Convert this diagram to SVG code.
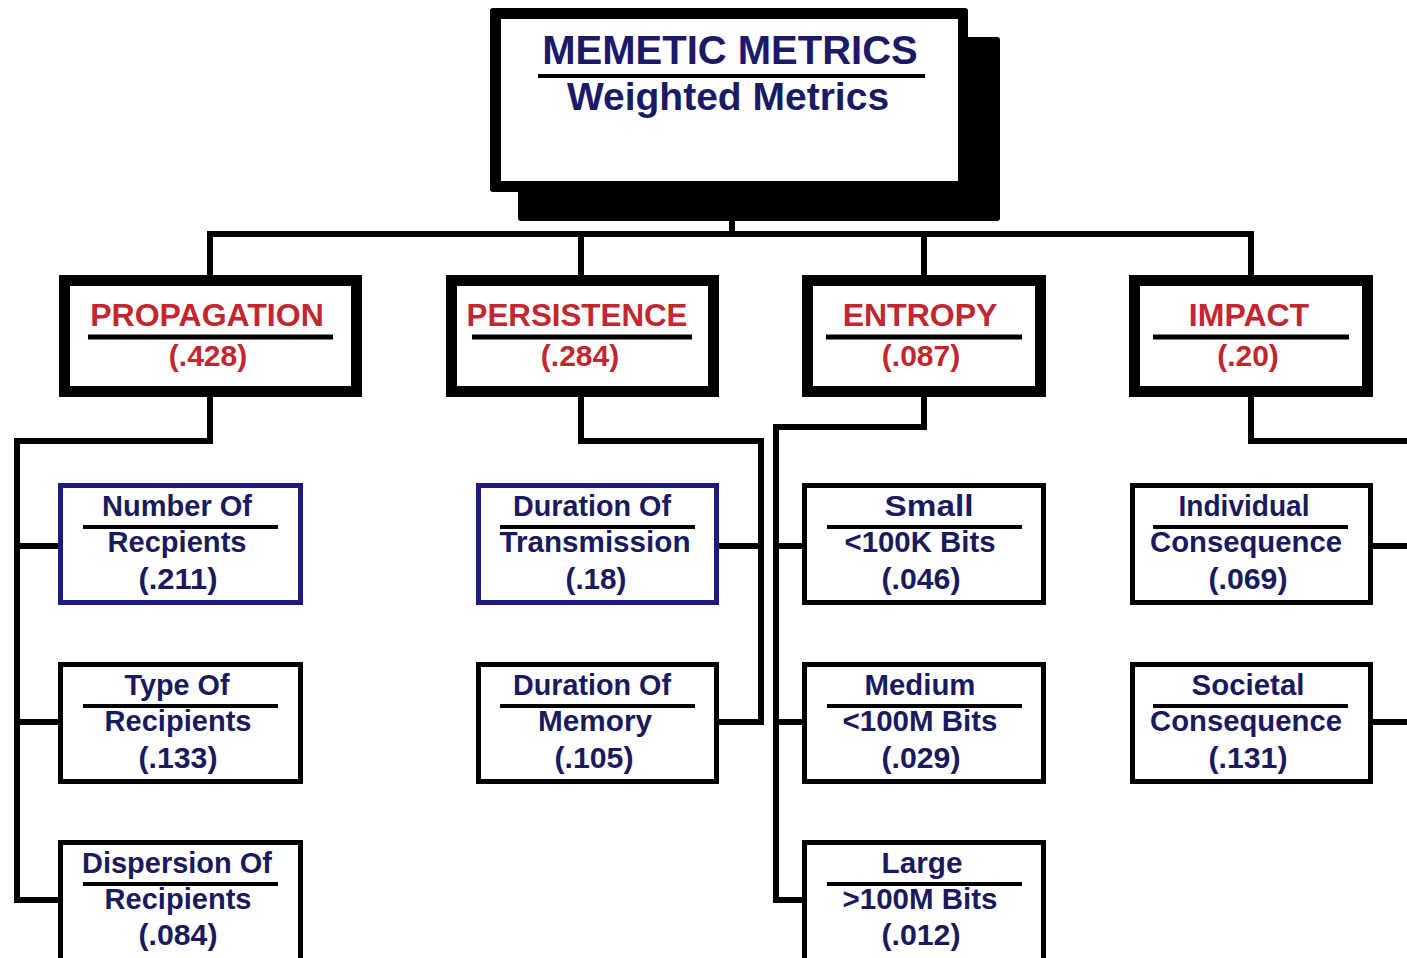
<svg xmlns="http://www.w3.org/2000/svg" width="1407" height="958" viewBox="0 0 1407 958">
<style>
.bg{fill:#ffffff}
.l1{fill:#ffffff;stroke:#000;stroke-width:11}
.l2{fill:#ffffff;stroke:#000;stroke-width:5}
.l2b{fill:#ffffff;stroke:#1c1c80;stroke-width:5}
.ul1{stroke:#000;stroke-width:5}
.ul2{stroke:#000;stroke-width:4}
.t0{font-family:"Liberation Sans",Arial,sans-serif;font-weight:bold;fill:#1a1a66;text-anchor:middle}
.t1{font-family:"Liberation Sans",Arial,sans-serif;font-weight:bold;fill:#c4262e;text-anchor:middle}
.t2{font-family:"Liberation Sans",Arial,sans-serif;font-weight:bold;fill:#1a1a5e;text-anchor:middle;font-size:29px}
.conn{fill:none;stroke:#000;stroke-width:6}
</style>
<rect class="bg" x="0" y="0" width="1407" height="958"/>

<g id="connectors">
<path class="conn" d="M732 218 V234 M207 234 H1254 M210 234 V277 M581 234 V277 M924 234 V277 M1251 234 V277"/>
<path class="conn" d="M210 395 V441 H17 V900 H60 M17 546 H60 M17 722 H60"/>
<path class="conn" d="M581 395 V441 H761 V722 H717 M717 546 H761"/>
<path class="conn" d="M924 395 V427 H776 V900 H804 M776 546 H804 M776 722 H804"/>
<path class="conn" d="M1251 395 V441 H1407 M1371 546 H1407 M1371 722 H1407"/>
</g>

<g id="root">
<rect x="518" y="37" width="482" height="184" rx="3" fill="#000"/>
<rect x="490" y="8" width="478" height="184" rx="3" fill="#000"/>
<rect x="501" y="19" width="457" height="162" fill="#fff"/>
<text class="t0" x="730" y="64" font-size="40">MEMETIC METRICS</text>
<line x1="538" y1="76" x2="925" y2="76" stroke="#000" stroke-width="4"/>
<text class="t0" x="728" y="110" font-size="39">Weighted Metrics</text>
</g>

<g id="propagation">
<rect class="l1" x="64.5" y="280.5" width="292" height="111"/>
<text class="t1" x="207" y="326" font-size="32">PROPAGATION</text>
<line class="ul1" x1="88" y1="337" x2="333" y2="337"/>
<text class="t1" x="208" y="366" font-size="30">(.428)</text>
</g>
<g id="persistence">
<rect class="l1" x="451.5" y="280.5" width="262" height="111"/>
<text class="t1" x="577" y="326" font-size="32" textLength="221" lengthAdjust="spacingAndGlyphs">PERSISTENCE</text>
<line class="ul1" x1="472" y1="337" x2="692" y2="337"/>
<text class="t1" x="580" y="366" font-size="30">(.284)</text>
</g>
<g id="entropy">
<rect class="l1" x="807.5" y="280.5" width="233" height="111"/>
<text class="t1" x="920" y="326" font-size="32">ENTROPY</text>
<line class="ul1" x1="826" y1="337" x2="1022" y2="337"/>
<text class="t1" x="921" y="366" font-size="30">(.087)</text>
</g>
<g id="impact">
<rect class="l1" x="1134.5" y="280.5" width="233" height="111"/>
<text class="t1" x="1249" y="326" font-size="32">IMPACT</text>
<line class="ul1" x1="1153" y1="337" x2="1349" y2="337"/>
<text class="t1" x="1248" y="366" font-size="30">(.20)</text>
</g>

<g id="number-of-recipients">
<rect class="l2b" x="60.5" y="485.5" width="240" height="117"/>
<text class="t2" x="177" y="516" textLength="150" lengthAdjust="spacingAndGlyphs">Number Of</text>
<line class="ul2" x1="83" y1="527" x2="278" y2="527"/>
<text class="t2" x="177" y="552" textLength="139" lengthAdjust="spacingAndGlyphs">Recpients</text>
<text class="t2" x="178" y="589" textLength="79" lengthAdjust="spacingAndGlyphs">(.211)</text>
</g>
<g id="type-of-recipients">
<rect class="l2" x="60.5" y="664.5" width="240" height="117"/>
<text class="t2" x="177" y="695" textLength="105" lengthAdjust="spacingAndGlyphs">Type Of</text>
<line class="ul2" x1="83" y1="706" x2="278" y2="706"/>
<text class="t2" x="178" y="731" textLength="147" lengthAdjust="spacingAndGlyphs">Recipients</text>
<text class="t2" x="178" y="768" textLength="79" lengthAdjust="spacingAndGlyphs">(.133)</text>
</g>
<g id="dispersion-of-recipients">
<rect class="l2" x="60.5" y="842.5" width="240" height="130"/>
<text class="t2" x="177" y="873" textLength="190" lengthAdjust="spacingAndGlyphs">Dispersion Of</text>
<line class="ul2" x1="83" y1="884" x2="278" y2="884"/>
<text class="t2" x="178" y="909" textLength="147" lengthAdjust="spacingAndGlyphs">Recipients</text>
<text class="t2" x="178" y="945" textLength="79" lengthAdjust="spacingAndGlyphs">(.084)</text>
</g>

<g id="duration-of-transmission">
<rect class="l2b" x="478.5" y="485.5" width="238" height="117"/>
<text class="t2" x="592" y="516" textLength="158" lengthAdjust="spacingAndGlyphs">Duration Of</text>
<line class="ul2" x1="500" y1="527" x2="695" y2="527"/>
<text class="t2" x="595" y="552" textLength="191" lengthAdjust="spacingAndGlyphs">Transmission</text>
<text class="t2" x="596" y="589" textLength="61" lengthAdjust="spacingAndGlyphs">(.18)</text>
</g>
<g id="duration-of-memory">
<rect class="l2" x="478.5" y="664.5" width="238" height="117"/>
<text class="t2" x="592" y="695" textLength="158" lengthAdjust="spacingAndGlyphs">Duration Of</text>
<line class="ul2" x1="500" y1="706" x2="695" y2="706"/>
<text class="t2" x="595" y="731" textLength="114" lengthAdjust="spacingAndGlyphs">Memory</text>
<text class="t2" x="594" y="768" textLength="79" lengthAdjust="spacingAndGlyphs">(.105)</text>
</g>

<g id="small">
<rect class="l2" x="804.5" y="485.5" width="239" height="117"/>
<text class="t2" x="929" y="516" textLength="89" lengthAdjust="spacingAndGlyphs">Small</text>
<line class="ul2" x1="827" y1="527" x2="1022" y2="527"/>
<text class="t2" x="920" y="552" textLength="151" lengthAdjust="spacingAndGlyphs">&lt;100K Bits</text>
<text class="t2" x="921" y="589" textLength="79" lengthAdjust="spacingAndGlyphs">(.046)</text>
</g>
<g id="medium">
<rect class="l2" x="804.5" y="664.5" width="239" height="117"/>
<text class="t2" x="920" y="695" textLength="111" lengthAdjust="spacingAndGlyphs">Medium</text>
<line class="ul2" x1="827" y1="706" x2="1022" y2="706"/>
<text class="t2" x="920" y="731" textLength="155" lengthAdjust="spacingAndGlyphs">&lt;100M Bits</text>
<text class="t2" x="921" y="768" textLength="79" lengthAdjust="spacingAndGlyphs">(.029)</text>
</g>
<g id="large">
<rect class="l2" x="804.5" y="842.5" width="239" height="130"/>
<text class="t2" x="922" y="873" textLength="81" lengthAdjust="spacingAndGlyphs">Large</text>
<line class="ul2" x1="827" y1="884" x2="1022" y2="884"/>
<text class="t2" x="920" y="909" textLength="155" lengthAdjust="spacingAndGlyphs">&gt;100M Bits</text>
<text class="t2" x="921" y="945" textLength="79" lengthAdjust="spacingAndGlyphs">(.012)</text>
</g>

<g id="individual-consequence">
<rect class="l2" x="1132.5" y="485.5" width="238" height="117"/>
<text class="t2" x="1244" y="516" textLength="131" lengthAdjust="spacingAndGlyphs">Individual</text>
<line class="ul2" x1="1153" y1="527" x2="1348" y2="527"/>
<text class="t2" x="1246" y="552" textLength="192" lengthAdjust="spacingAndGlyphs">Consequence</text>
<text class="t2" x="1248" y="589" textLength="79" lengthAdjust="spacingAndGlyphs">(.069)</text>
</g>
<g id="societal-consequence">
<rect class="l2" x="1132.5" y="664.5" width="238" height="117"/>
<text class="t2" x="1248" y="695" textLength="113" lengthAdjust="spacingAndGlyphs">Societal</text>
<line class="ul2" x1="1153" y1="706" x2="1348" y2="706"/>
<text class="t2" x="1246" y="731" textLength="192" lengthAdjust="spacingAndGlyphs">Consequence</text>
<text class="t2" x="1248" y="768" textLength="79" lengthAdjust="spacingAndGlyphs">(.131)</text>
</g>
</svg>
